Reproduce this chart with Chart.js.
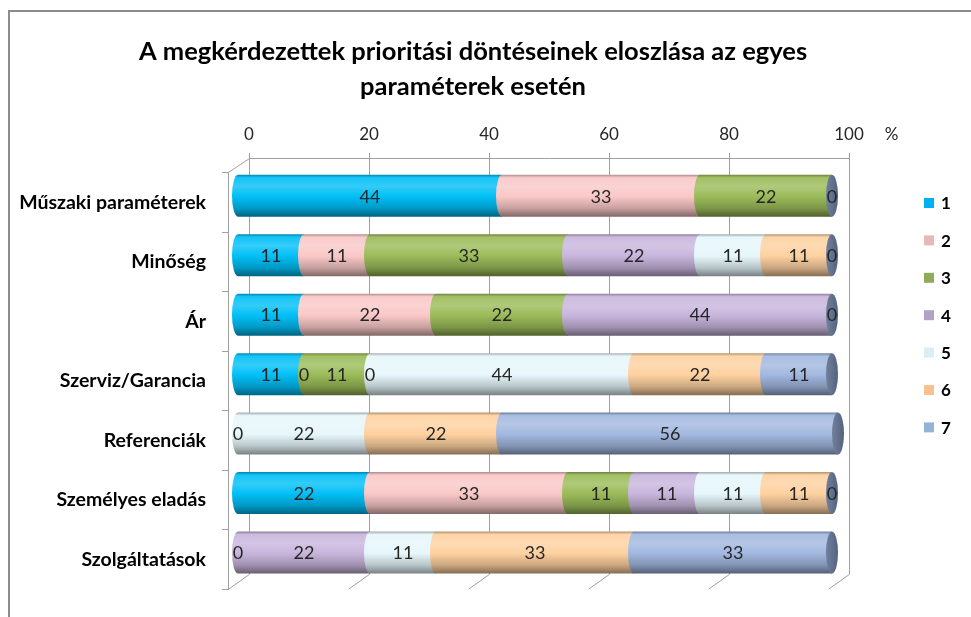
<!DOCTYPE html>
<html lang="hu">
<head>
<meta charset="utf-8">
<script src="https://cdn.jsdelivr.net/npm/chart.js@4.4.1/dist/chart.umd.min.js"></script>
<style>
  html, body { margin: 0; padding: 0; background: #fff; }
  #wrap { position: relative; width: 971px; height: 617px; overflow: hidden; }
  #frame { position: absolute; left: 8px; top: 10px; width: 1000px; height: 700px;
           border: 2px solid #8c8c8c; box-sizing: border-box; }
  #chart { position: absolute; left: 0; top: 0; }
</style>
</head>
<body>
<div id="wrap">
  <div id="frame"></div>
  <canvas id="chart" width="971" height="617"></canvas>
</div>
<script>
// kategóriák (felülről lefelé)
const categories = ['Műszaki paraméterek', 'Minőség', 'Ár', 'Szerviz/Garancia',
                    'Referenciák', 'Személyes eladás', 'Szolgáltatások'];
const seriesNames = ['1', '2', '3', '4', '5', '6', '7'];

// százalékos megoszlás prioritásonként, null = nincs adat
const prio1 = [44, 11, 11, 11, 0, 22, 0];
const prio2 = [33, 11, 22, 0, null, 33, null];
const prio3 = [22, 33, 22, 11, null, 11, null];
const prio4 = [null, 22, 44, 0, null, 11, 22];
const prio5 = [null, 11, null, 44, 22, 11, 11];
const prio6 = [null, 11, null, 22, 22, 11, 33];
const prio7 = [0, 0, 0, 11, 56, 0, 33];
const xTicks = [0, 20, 40, 60, 80, 100];

const seriesValues = [prio1, prio2, prio3, prio4, prio5, prio6, prio7];
const legendColors = ['#00B0F0', '#E6B9B8', '#8FAA58', '#B3A2C7', '#DBEEF4', '#FAC090', '#95B3D7'];
const bodyColors   = ['#00BFF6', '#F9C8C7', '#9BBB59', '#C8B5DC', '#E6F6FA', '#FED1A0', '#A2B8E0'];
const capColor = '#5E7090';

const FONT = 'Lato, "Open Sans", sans-serif';
const BAR_H = 42;
const depth = { dx: 21, dy: -15 };     // hátfal eltolása az elülső síkhoz képest
const barShift = { dx: 10, dy: -7 };   // a hengerek a mélység felénél ülnek

function hexToRgb(h) {
  const n = parseInt(h.slice(1), 16);
  return [(n >> 16) & 255, (n >> 8) & 255, n & 255];
}
function mix(hex, target, t) {
  const a = hexToRgb(hex), b = hexToRgb(target);
  const c = a.map((v, i) => Math.round(v + (b[i] - v) * t));
  return `rgb(${c[0]},${c[1]},${c[2]})`;
}

// henger hatású függőleges színátmenet egy sávra
function cylinderFill(c, idx) {
  const chart = c.chart;
  const base = bodyColors[idx];
  if (c.dataIndex === undefined || !chart.chartArea) return base;
  const yc = chart.scales.y.getPixelForValue(c.dataIndex);
  const g = chart.ctx.createLinearGradient(0, yc - BAR_H / 2, 0, yc + BAR_H / 2);
  g.addColorStop(0, mix(base, '#000000', 0.3));
  g.addColorStop(0.07, mix(base, '#ffffff', 0.08));
  g.addColorStop(0.28, mix(base, '#ffffff', 0.2));
  g.addColorStop(0.52, base);
  g.addColorStop(0.8, mix(base, '#000000', 0.2));
  g.addColorStop(1, mix(base, '#000000', 0.48));
  return g;
}

const datasets = seriesValues.map((vals, i) => ({
  label: seriesNames[i],
  data: vals,
  backgroundColor: (c) => cylinderFill(c, i),
  borderWidth: 0,
  inflateAmount: 0,
  barThickness: BAR_H,
  clip: false
}));

// hátfal, rácsvonalak, padló és a felső tengelyfeliratok
const wallPlugin = {
  id: 'wall',
  beforeDatasetsDraw(chart) {
    const { ctx, chartArea: a, scales: { x } } = chart;
    const top = a.top + depth.dy, bottom = a.bottom + depth.dy;
    ctx.save();
    ctx.strokeStyle = '#a0a0a0';
    ctx.lineWidth = 1;
    xTicks.forEach(v => {
      const xf = Math.round(x.getPixelForValue(v)) + 0.5;
      const xb = xf + depth.dx;
      ctx.beginPath();
      ctx.moveTo(xb, top - 5);
      ctx.lineTo(xb, bottom);
      ctx.lineTo(xf, a.bottom);
      ctx.stroke();
    });
    const x0 = Math.round(x.getPixelForValue(0)) + 0.5 + depth.dx;
    const x1 = Math.round(x.getPixelForValue(100)) + 0.5 + depth.dx;
    ctx.beginPath();
    ctx.moveTo(x0, top + 0.5);
    ctx.lineTo(x1, top + 0.5);
    ctx.moveTo(a.left - 0.5, a.top);
    ctx.lineTo(x0, top + 0.5);
    ctx.stroke();

    ctx.fillStyle = '#262626';
    ctx.font = `17px ${FONT}`;
    ctx.textAlign = 'center';
    ctx.textBaseline = 'middle';
    xTicks.forEach(v => {
      ctx.fillText(String(v), x.getPixelForValue(v) + depth.dx, top - 23);
    });
    ctx.fillText('%', x1 + 42, top - 23);
    ctx.restore();

    ctx.save();
    ctx.translate(barShift.dx, barShift.dy);
  },
  afterDatasetsDraw(chart) {
    const { ctx } = chart;
    const metas = chart.data.datasets.map((d, i) => chart.getDatasetMeta(i));
    const rx = 6;

    // a szakaszok bal oldali íve
    metas.forEach((meta, di) => {
      meta.data.forEach((el, j) => {
        const v = seriesValues[di][j];
        if (!v) return;
        const p = el.getProps(['x', 'y', 'base', 'height'], true);
        ctx.beginPath();
        ctx.ellipse(p.base, p.y, rx, p.height / 2, 0, Math.PI / 2, Math.PI * 1.5);
        ctx.closePath();
        ctx.fillStyle = el.options.backgroundColor;
        ctx.fill();
      });
    });

    // véglapok
    categories.forEach((c, j) => {
      let last = -1;
      seriesValues.forEach((vals, di) => { if (vals[j] !== null) last = di; });
      if (last < 0) return;
      const p = metas[last].data[j].getProps(['x', 'y', 'height'], true);
      const g = ctx.createLinearGradient(p.x - rx, 0, p.x + rx, 0);
      g.addColorStop(0, mix(capColor, '#ffffff', 0.12));
      g.addColorStop(1, mix(capColor, '#000000', 0.12));
      ctx.beginPath();
      ctx.ellipse(p.x, p.y, rx, p.height / 2, 0, 0, Math.PI * 2);
      ctx.fillStyle = g;
      ctx.fill();
    });

    // értékfeliratok
    ctx.fillStyle = '#262626';
    ctx.font = `18px ${FONT}`;
    ctx.textAlign = 'center';
    ctx.textBaseline = 'middle';
    metas.forEach((meta, di) => {
      meta.data.forEach((el, j) => {
        const v = seriesValues[di][j];
        if (v === null) return;
        const p = el.getProps(['x', 'y', 'base'], true);
        ctx.fillText(String(v), (p.x + p.base) / 2, p.y + 1);
      });
    });
    ctx.restore();
  },
  afterDraw(chart) {
    const { ctx, chartArea: a } = chart;
    ctx.save();
    // cím
    ctx.fillStyle = '#000';
    ctx.font = `bold 25.5px ${FONT}`;
    ctx.textAlign = 'center';
    ctx.textBaseline = 'middle';
    ctx.fillText('A megkérdezettek prioritási döntéseinek eloszlása az egyes', 473, 52);
    ctx.fillText('paraméterek esetén', 473, 87);

    // jelmagyarázat
    ctx.font = `bold 17px ${FONT}`;
    ctx.textAlign = 'left';
    chart.data.datasets.forEach((d, i) => {
      const ly = a.top + 30 + i * 37.4;
      ctx.fillStyle = legendColors[i];
      ctx.fillRect(924, ly - 5, 10, 10);
      ctx.fillStyle = '#000';
      ctx.fillText(d.label, 941, ly + 1);
    });
    ctx.restore();
  }
};

new Chart(document.getElementById('chart'), {
  type: 'bar',
  data: { labels: categories, datasets },
  options: {
    indexAxis: 'y',
    responsive: false,
    animation: false,
    devicePixelRatio: 1,
    layout: { padding: { top: 173, right: 143, bottom: 15, left: 0 } },
    plugins: { legend: { display: false }, tooltip: { enabled: false } },
    scales: {
      x: {
        stacked: true, min: 0, max: 100, display: false
      },
      y: {
        stacked: true,
        afterFit(scale) { scale.width = 228; },
        border: { display: true, color: '#a0a0a0' },
        grid: { drawOnChartArea: false, tickLength: 6, color: '#a0a0a0', offset: true },
        ticks: { color: '#000', padding: 16, font: { family: FONT, size: 19.5, weight: 'bold' } }
      }
    }
  },
  plugins: [wallPlugin]
});
</script>
</body>
</html>
